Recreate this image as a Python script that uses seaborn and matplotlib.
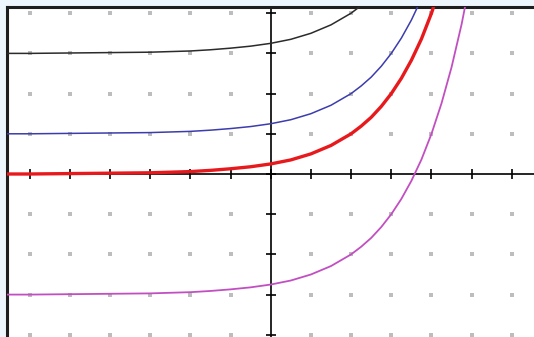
import numpy as np
import pandas as pd
import seaborn as sns
import matplotlib.pyplot as plt

# sample points (grid unit = 1)
x_vals = [-7, -6, -5, -4, -3, -2, -1.5, -1, -0.5, 0, 0.5, 1, 1.5, 2,
          2.25, 2.5, 2.75, 3, 3.25, 3.5, 3.75, 4, 4.25, 4.5, 4.75, 5, 5.25]
y_black = [3.00, 3.00, 3.01, 3.02, 3.03, 3.06, 3.09, 3.13, 3.18, 3.25, 3.35, 3.50, 3.71, 4.00,
           4.19, 4.41, 4.68, 5.00, 5.38, 5.83, 6.36, 7.00, 7.76, 8.66, 9.73, 11.00, 12.51]
y_blue = [1.00, 1.00, 1.01, 1.02, 1.03, 1.06, 1.09, 1.13, 1.18, 1.25, 1.35, 1.50, 1.71, 2.00,
          2.19, 2.41, 2.68, 3.00, 3.38, 3.83, 4.36, 5.00, 5.76, 6.66, 7.73, 9.00, 10.51]
y_red = [0.00, 0.00, 0.01, 0.02, 0.03, 0.06, 0.09, 0.13, 0.18, 0.25, 0.35, 0.50, 0.71, 1.00,
         1.19, 1.41, 1.68, 2.00, 2.38, 2.83, 3.36, 4.00, 4.76, 5.66, 6.73, 8.00, 9.51]
y_magenta = [-3.00, -3.00, -2.99, -2.98, -2.97, -2.94, -2.91, -2.87, -2.82, -2.75, -2.65, -2.50, -2.29, -2.00,
             -1.81, -1.59, -1.32, -1.00, -0.62, -0.17, 0.36, 1.00, 1.76, 2.66, 3.73, 5.00, 6.51]

curves = [
    (y_black, '#2b2b2b', 1.1),
    (y_blue, '#3c3cae', 1.1),
    (y_red, '#e8191c', 2.4),
    (y_magenta, '#c24fc2', 1.3),
]

sns.set_style('white')

fig = plt.figure(figsize=(5.34, 3.37), dpi=100, facecolor='#eef6fd')
ax = fig.add_axes([7 / 534, 0, 527 / 534, 330 / 337])
ax.set_facecolor('white')

ax.set_xlim(-6.56, 6.55)
ax.set_ylim(-4.055, 4.154)

# grey lattice dots, skipping the axes
gx, gy = np.meshgrid(np.arange(-6, 7), np.arange(-4, 5))
mask = (gx != 0) & (gy != 0)
ax.scatter(gx[mask], gy[mask], marker='s', s=9, color='#bdbdbd', linewidths=0, zorder=1)

# axes through the origin with ticks
ax.axhline(0, color='black', lw=1.2, zorder=2)
ax.axvline(0, color='black', lw=1.2, zorder=2)
xt = np.arange(-6, 7)
yt = np.arange(-4, 5)
ax.plot(xt, np.zeros_like(xt), ls='none', marker='|', ms=7, mew=1.2, color='black', zorder=2)
ax.plot(np.zeros_like(yt), yt, ls='none', marker='_', ms=7, mew=1.2, color='black', zorder=2)

for ys, col, lw in curves:
    df = pd.DataFrame({'x': x_vals, 'y': ys})
    sns.lineplot(data=df, x='x', y='y', color=col, linewidth=lw, sort=False,
                 estimator=None, ax=ax, zorder=3)

ax.set_xticks([])
ax.set_yticks([])
ax.set_xlabel('')
ax.set_ylabel('')
for side in ['right', 'bottom']:
    ax.spines[side].set_visible(False)
for side in ['left', 'top']:
    ax.spines[side].set_visible(True)
    ax.spines[side].set_color('#1e1e1e')
    ax.spines[side].set_linewidth(2.2)

fig.savefig('out.png', dpi=100, facecolor=fig.get_facecolor())
